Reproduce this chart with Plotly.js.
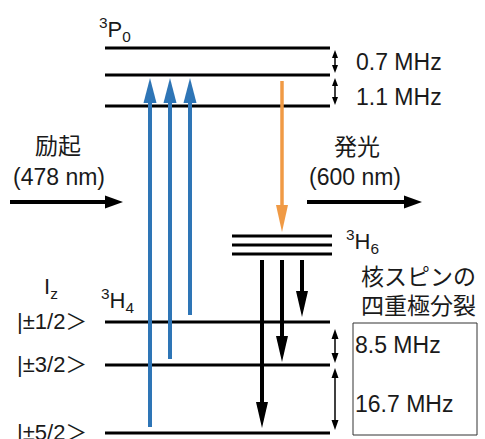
<!DOCTYPE html>
<html><head><meta charset="utf-8">
<script src="https://cdn.plot.ly/plotly-3.0.1.min.js"></script>
<style>html,body{margin:0;padding:0;background:#fff;}#chart{width:485px;height:439px;}</style>
</head><body><div id="chart"></div>
<script>
// ---- Energy levels (diagram units: x right, y down) ----
const p0Levels = [48, 75, 106];
const p0Span = [105, 330];
const h6Levels = [236, 245, 254];
const h6Span = [232, 332];
const h4Levels = [322, 365, 433];
const h4Span = [105, 330];

// ---- Excitation arrows (blue) ----
const excX = [150, 170, 190];
const excFrom = [427, 359, 315];
const excTo = [78, 78, 78];

// ---- Emission arrow (orange) ----
const emiX = [282];
const emiFrom = [81];
const emiTo = [232];

// ---- Decay arrows (black) ----
const decX = [262, 282, 302];
const decFrom = [260, 260, 260];
const decTo = [428, 362, 317];

// ---- Beam arrows (horizontal) ----
const beamY = [202, 202];
const beamFrom = [10, 307];
const beamTo = [123, 422];

// ---- Splitting markers ----
const splitX = [335, 335, 335, 335];
const splitFrom = [50, 78, 329, 368];
const splitTo = [73, 105, 363, 430];
const splitLabels = ['0.7 MHz', '1.1 MHz', '8.5 MHz', '16.7 MHz'];
const splitLabelY = [62, 97, 345, 404];

// ---- Labels ----
const stateLabels = ['<sup>3</sup>P<sub>0</sub>', '<sup>3</sup>H<sub>6</sub>', '<sup>3</sup>H<sub>4</sub>'];
const kets = ['|±1/2＞', '|±3/2＞', '|±5/2＞'];

const FONT = 'Liberation Sans, Arial, Noto Sans CJK JP, sans-serif';
const TXT = '#1a1a1a';
const BLUE = '#2e75b6', ORANGE = '#f09a45', BLACK = '#000000';

const traces = [];
const shapes = [];
const annotations = [];

function levelTrace(levels, span) {
  const xs = [], ys = [];
  levels.forEach(y => { xs.push(span[0], span[1], null); ys.push(y, y, null); });
  traces.push({x: xs, y: ys, mode: 'lines', line: {color: BLACK, width: 3}, hoverinfo: 'skip'});
}
levelTrace(p0Levels, p0Span);
levelTrace(h6Levels, h6Span);
levelTrace(h4Levels, h4Span);

function vArrow(x, y0, y1, color, w, headW, headL, both) {
  const d = Math.sign(y1 - y0);
  const s0 = both ? y0 + d * headL * 0.8 : y0;
  const s1 = y1 - d * headL * 0.8;
  traces.push({x: [x, x], y: [s0, s1], mode: 'lines', line: {color: color, width: w}, hoverinfo: 'skip'});
  const head = (tip, dir) => {
    const b = tip - dir * headL;
    shapes.push({type: 'path', xref: 'x', yref: 'y',
      path: `M ${x - headW / 2},${b} L ${x + headW / 2},${b} L ${x},${tip} Z`,
      fillcolor: color, line: {width: 0}});
  };
  head(y1, d);
  if (both) head(y0, -d);
}
function hArrow(y, x0, x1, color, w, headW, headL) {
  const d = Math.sign(x1 - x0);
  traces.push({x: [x0, x1 - d * headL * 0.8], y: [y, y], mode: 'lines', line: {color: color, width: w}, hoverinfo: 'skip'});
  const b = x1 - d * headL;
  shapes.push({type: 'path', xref: 'x', yref: 'y',
    path: `M ${b},${y - headW / 2} L ${b},${y + headW / 2} L ${x1},${y} Z`,
    fillcolor: color, line: {width: 0}});
}

excX.forEach((x, i) => vArrow(x, excFrom[i], excTo[i], BLUE, 4, 13, 25, false));
emiX.forEach((x, i) => vArrow(x, emiFrom[i], emiTo[i], ORANGE, 3.5, 12, 27, false));
decX.forEach((x, i) => vArrow(x, decFrom[i], decTo[i], BLACK, 4, 12, 26, false));
beamY.forEach((y, i) => hArrow(y, beamFrom[i], beamTo[i], BLACK, 4, 13, 18));
splitX.forEach((x, i) => {
  const small = i < 2;
  vArrow(x, splitFrom[i], splitTo[i], BLACK, 1.5, small ? 6 : 7, small ? 8 : 10, true);
});

// box around quadrupole splittings
shapes.push({type: 'rect', xref: 'x', yref: 'y', x0: 353, x1: 477, y0: 323, y1: 435,
  line: {color: '#333333', width: 1}});

function txt(text, x, y, size, xanchor) {
  annotations.push({text: text, x: x, y: y, xref: 'x', yref: 'y', showarrow: false,
    xanchor: xanchor || 'left', yanchor: 'middle', font: {family: FONT, size: size, color: TXT}});
}
splitLabels.forEach((t, i) => txt(t, i < 2 ? 354 : 353, splitLabelY[i], 23));
txt(stateLabels[0], 97, 29, 22);
txt(stateLabels[1], 344, 241, 22);
txt(stateLabels[2], 99, 300, 22);
txt('I<sub>z</sub>', 42, 288, 22);
kets.forEach((t, i) => txt(t, 15, h4Levels[i] - 1, 22));
txt('励起', 58, 146, 23, 'center');
txt('(478 nm)', 59, 177, 23, 'center');
txt('発光', 357, 147, 23, 'center');
txt('(600 nm)', 355, 177, 23, 'center');
txt('核スピンの', 418, 277, 23, 'center');
txt('四重極分裂', 418, 306, 23, 'center');

Plotly.newPlot('chart', traces, {
  width: 485, height: 439,
  margin: {l: 0, r: 0, t: 0, b: 0},
  paper_bgcolor: '#ffffff', plot_bgcolor: '#ffffff',
  showlegend: false,
  xaxis: {range: [0, 485], visible: false, fixedrange: true},
  yaxis: {range: [439, 0], visible: false, fixedrange: true},
  shapes: shapes,
  annotations: annotations
}, {staticPlot: true, displayModeBar: false});
</script>
</body></html>
